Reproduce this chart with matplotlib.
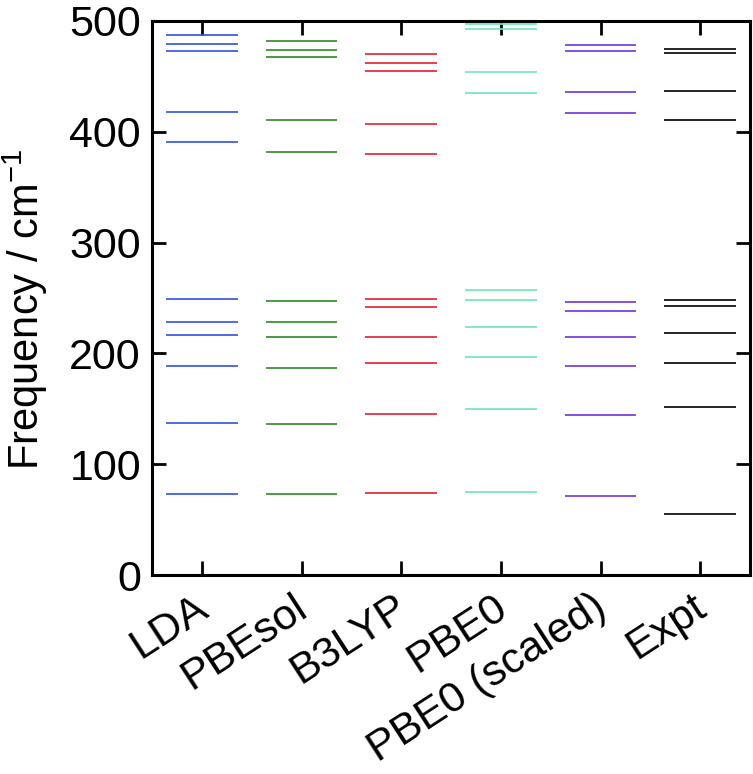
import numpy as np
import matplotlib
matplotlib.use("Agg")
import matplotlib.pyplot as plt

plt.rcParams['font.family'] = ['Liberation Sans', 'DejaVu Sans']
plt.rcParams['mathtext.default'] = 'regular'

# methods and their computed phonon frequencies (cm^-1)
methods = ["LDA", "PBEsol", "B3LYP", "PBE0", "PBE0 (scaled)", "Expt"]
colors = ["#3050e0", "#2e8a22", "#e0202e", "#6ee6b6", "#7232e0", "#000000"]

lda = [73, 137, 189, 217, 228, 249, 391, 418, 473, 479, 487]
pbesol = [73, 136, 187, 215, 228, 247, 382, 411, 467, 474, 482]
b3lyp = [74, 145, 191, 215, 242, 249, 380, 407, 455, 462, 470]
pbe0 = [75, 150, 197, 224, 248, 257, 435, 454, 493, 497]
pbe0_scaled = [71, 144, 189, 215, 238, 246, 417, 436, 473, 478]
expt = [55, 152, 191, 218, 243, 248, 411, 437, 471, 475]

freqs = [lda, pbesol, b3lyp, pbe0, pbe0_scaled, expt]

fig, ax = plt.subplots(figsize=(7.53, 7.74), dpi=100)
fig.subplots_adjust(left=0.202, right=0.996, top=0.973, bottom=0.257)

half = 0.36
for i, (vals, c) in enumerate(zip(freqs, colors)):
    vals = np.array(vals)
    ax.hlines(vals, i - half, i + half, colors=c, linewidth=1.2)

ax.set_xlim(-0.5, 5.5)
ax.set_ylim(0, 500)
ax.set_yticks([0, 100, 200, 300, 400, 500])
ax.set_xticks(range(len(methods)))
ax.set_xticklabels(methods, rotation=33, ha='right', va='center_baseline',
                   rotation_mode='anchor', fontsize=27)

ax.set_ylabel("Frequency / cm$^{-1}$", fontsize=30)
ax.yaxis.set_label_coords(-0.17, 0.48)

ax.tick_params(direction='in', length=10, width=2, top=True, right=True,
               labelsize=31, pad=8)
ax.tick_params(axis='x', pad=18)
for s in ax.spines.values():
    s.set_linewidth(2.2)

fig.savefig("out.png", dpi=100)
